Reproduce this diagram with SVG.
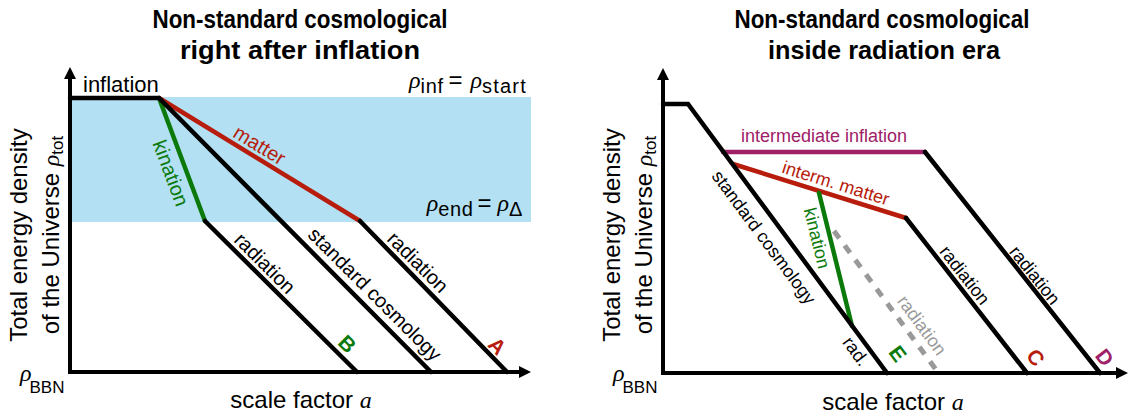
<svg xmlns="http://www.w3.org/2000/svg" width="1129" height="419" viewBox="0 0 1129 419">
<defs>
<marker id="arr" viewBox="0 0 12 12" refX="4" refY="6" markerWidth="12" markerHeight="12" markerUnits="userSpaceOnUse" orient="auto-start-reverse">
<path d="M0,0 L12,6 L0,12 z" fill="#000"/>
</marker>
<style>
.t{font-family:"Liberation Sans",Arial,sans-serif;fill:#000}
.ttl{font-family:"Liberation Sans",Arial,sans-serif;font-weight:bold;font-size:26px;text-anchor:middle}
.ax{font-size:24px}
.lab{font-size:20px;text-anchor:middle}
.labr{font-size:18px;text-anchor:middle}
.big{font-size:21px;font-weight:bold;text-anchor:middle}
.m{font-family:"Liberation Serif","DejaVu Serif",serif;font-style:italic}
.sub{font-size:20px;letter-spacing:0.6px}
.axis{fill:none;stroke:#000;stroke-width:4;stroke-linejoin:miter}
.k{fill:none;stroke:#000;stroke-width:4.5;stroke-linecap:round}
.red{fill:none;stroke:#b71c0c;stroke-width:4.5;stroke-linecap:round}
.grn{fill:none;stroke:#0b7a0b;stroke-width:4.5;stroke-linecap:round}
.pur{fill:none;stroke:#9e2067;stroke-width:4.5;stroke-linecap:round}
.gry{fill:none;stroke:#999;stroke-width:5;stroke-dasharray:9 9}
.cr{fill:#b71c0c}.cg{fill:#0b7a0b}.cp{fill:#9e2067}.cy{fill:#999}
</style>
</defs>

<g id="titles" class="t">
<text class="ttl" x="300" y="28" textLength="295" lengthAdjust="spacingAndGlyphs">Non-standard cosmological</text>
<text class="ttl" x="300" y="59" textLength="240" lengthAdjust="spacingAndGlyphs">right after inflation</text>
<text class="ttl" x="882" y="28" textLength="295" lengthAdjust="spacingAndGlyphs">Non-standard cosmological</text>
<text class="ttl" x="884" y="59" textLength="232" lengthAdjust="spacingAndGlyphs">inside radiation era</text>
</g>

<g id="left-panel">
<rect id="band" x="72" y="97" width="459" height="125" fill="#b3e0f2"/>
<g id="left-axes">
<path class="axis" d="M70,75 L70,372 L523,372" marker-start="url(#arr)" marker-end="url(#arr)"/>
</g>
<g id="left-connectors">
<path class="grn" d="M159,98 L205,221"/>
<path class="red" d="M159,98 L360,221"/>
<path class="k" d="M70,98 L159,98 L431,372"/>
<path class="k" d="M205,221 L357,372"/>
<path class="k" d="M360,221 L507,372"/>
</g>
<g id="left-labels" class="t">
<text x="83" y="92" style="font-size:22px">inflation</text>
<text x="527" y="88" text-anchor="end" style="font-size:24px"><tspan class="m">ρ</tspan><tspan class="sub" dy="5">inf</tspan><tspan dy="-5" dx="5">=</tspan><tspan class="m" dx="8">ρ</tspan><tspan class="sub" dy="5" style="letter-spacing:1.2px">start</tspan></text>
<text x="523" y="211" text-anchor="end" style="font-size:24px"><tspan class="m">ρ</tspan><tspan class="sub" dy="5">end</tspan><tspan dy="-5" dx="4">=</tspan><tspan class="m" dx="6">ρ</tspan><tspan class="sub" dy="5">Δ</tspan></text>
<text class="lab cg" transform="translate(164.4,175.5) rotate(69.5)">kination</text>
<text class="lab cr" transform="translate(256,151) rotate(31.5)">matter</text>
<text class="lab" transform="translate(260,268) rotate(45)">radiation</text>
<text class="lab" transform="translate(370,299) rotate(45)">standard cosmology</text>
<text class="lab" transform="translate(413,267) rotate(45)">radiation</text>
<text class="big cg" transform="translate(342,349) rotate(45)">B</text>
<text class="big cr" transform="translate(492,351) rotate(45)">A</text>
<text class="ax" x="301" y="408" text-anchor="middle">scale factor <tspan class="m">a</tspan></text>
<text class="ax" transform="translate(27,235) rotate(-90)" text-anchor="middle">Total energy density</text>
<text class="ax" transform="translate(59,235) rotate(-90)" text-anchor="middle">of the Universe <tspan class="m">ρ</tspan><tspan dy="4" style="font-size:17px">tot</tspan></text>
<text x="20" y="381" style="font-size:24px"><tspan class="m">ρ</tspan><tspan dy="12" dx="-2" style="font-size:17px">BBN</tspan></text>
</g>
</g>

<g id="right-panel">
<g id="right-axes">
<path class="axis" d="M663,76 L663,373 L1120,373" marker-start="url(#arr)" marker-end="url(#arr)"/>
</g>
<g id="right-connectors">
<path class="pur" d="M723,152 L925,152"/>
<path class="red" d="M733,164 L906,218"/>
<path class="gry" d="M834,231 L937,371"/>
<path class="grn" d="M819,193 L852,326"/>
<path class="k" d="M663,104 L688,104 L887,373"/>
<path class="k" d="M925,152 L1100,373"/>
<path class="k" d="M906,218 L1027,373"/>
</g>
<g id="right-labels" class="t">
<text class="labr cp" x="824" y="142">intermediate inflation</text>
<text class="labr cr" transform="translate(834,189) rotate(17.3)">interm. matter</text>
<text class="labr" transform="translate(759,241) rotate(53.5)">standard cosmology</text>
<text class="labr cg" transform="translate(811,239.5) rotate(76)">kination</text>
<text class="labr" transform="translate(851,355) rotate(53.5)">rad.</text>
<text class="labr cy" transform="translate(917,329) rotate(53.5)">radiation</text>
<text class="labr" transform="translate(960,279) rotate(52)">radiation</text>
<text class="labr" transform="translate(1030,279) rotate(51.6)">radiation</text>
<text class="big cg" transform="translate(892,358) rotate(53)">E</text>
<text class="big cr" transform="translate(1030,362) rotate(52)">C</text>
<text class="big cp" transform="translate(1099,362) rotate(52)">D</text>
<text class="ax" x="893" y="410" text-anchor="middle">scale factor <tspan class="m">a</tspan></text>
<text class="ax" transform="translate(620,235) rotate(-90)" text-anchor="middle">Total energy density</text>
<text class="ax" transform="translate(652,235) rotate(-90)" text-anchor="middle">of the Universe <tspan class="m">ρ</tspan><tspan dy="4" style="font-size:17px">tot</tspan></text>
<text x="613" y="381" style="font-size:24px"><tspan class="m">ρ</tspan><tspan dy="12" dx="-2" style="font-size:17px">BBN</tspan></text>
</g>
</g>
</svg>
